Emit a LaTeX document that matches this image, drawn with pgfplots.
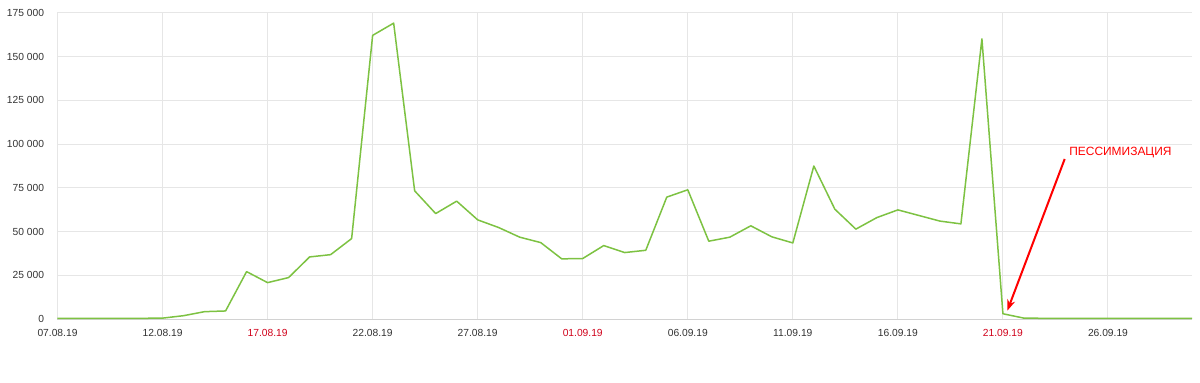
\documentclass[border=0pt]{standalone}
\usepackage{pgfplots}
\pgfplotsset{compat=1.18}
\usetikzlibrary{arrows.meta}
\usepackage{fontspec}
\setmainfont{Liberation Sans}
\definecolor{lineg}{HTML}{7DC242}
\definecolor{gridc}{HTML}{E6E6E6}
\definecolor{axc}{HTML}{D2D2D2}
\definecolor{txt}{HTML}{333333}
\definecolor{redl}{HTML}{D0021B}
\definecolor{arrowred}{HTML}{FF0000}
\pgfplotstableread{
d v
0 400
1 400
2 400
3 400
4 400
5 500
6 1900
7 4200
8 4600
9 27100
10 20800
11 23700
12 35500
13 36800
14 46000
15 162200
16 169200
17 73300
18 60300
19 67400
20 56700
21 52300
22 46800
23 43700
24 34400
25 34600
26 42000
27 38000
28 39300
29 69700
30 73900
31 44500
32 46800
33 53300
34 47000
35 43500
36 87500
37 62800
38 51400
39 58000
40 62400
41 59200
42 56000
43 54400
44 160200
45 3000
46 500
47 400
48 400
49 400
50 400
51 400
52 400
53 400
54 400
}\datatable
\begin{document}
\begin{tikzpicture}
\begin{axis}[
  scale only axis, width=1134.5bp, height=306bp,
  xmin=0, xmax=54, ymin=0, ymax=175000,
  scaled y ticks=false,
  axis x line*=bottom, axis y line*=left,
  x axis line style={draw=axc, line width=1bp, -},
  y axis line style={draw=none, -},
  major tick length=0pt,
  xtick={0,5,...,50},
  xticklabels={07.08.19,12.08.19,\textcolor{redl}{17.08.19},22.08.19,27.08.19,\textcolor{redl}{01.09.19},06.09.19,11.09.19,16.09.19,\textcolor{redl}{21.09.19},26.09.19},
  ytick={0,25000,...,175000},
  yticklabels={0,25 000,50 000,75 000,100 000,125 000,150 000,175 000},
  grid=major, grid style={draw=gridc, line width=1bp},
  tick label style={font=\fontsize{10.3}{12}\selectfont, text=txt},
  xticklabel style={yshift=-7bp},
  yticklabel style={xshift=-10bp},
  clip=false,
]
\addplot[lineg, line width=1.5bp, line join=round] table[x=d, y=v] {\datatable};
\draw[arrowred, line width=2bp, -{Stealth[length=11bp,width=8bp]}] (axis cs:47.94,91500) -- (axis cs:45.21,4750);
\node[anchor=west, text=arrowred, font=\fontsize{12}{14}\selectfont, inner sep=0pt] at (axis cs:48.15,95300) {ПЕССИМИЗАЦИЯ};
\end{axis}
\path ([xshift=-57.5bp,yshift=-63bp]current axis.south west) rectangle ([xshift=8bp,yshift=13bp]current axis.north east);
\end{tikzpicture}
\end{document}
